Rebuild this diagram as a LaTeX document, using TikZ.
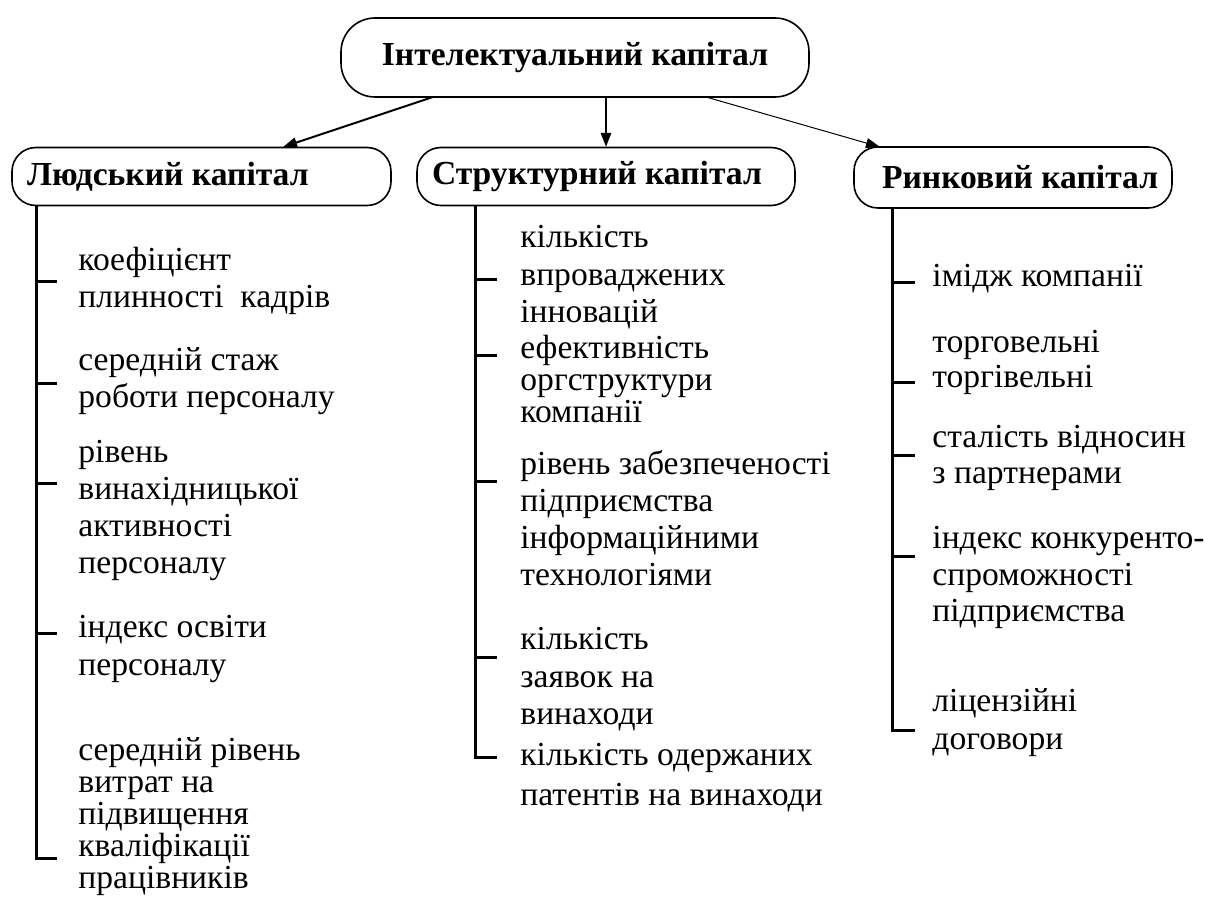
\documentclass[tikz,border=0pt]{standalone}
\usepackage{fontspec}
\setmainfont{Liberation Serif}
\usetikzlibrary{arrows.meta}
\newcommand{\firstln}{\rule{0pt}{12pt}}
\tikzset{
  pill/.style={draw, line width=0.8pt, rounded corners=12pt, inner sep=0pt, font={\rmfamily\bfseries\fontsize{16.8}{19}\selectfont}},
  itm/.style={anchor=north west, inner sep=0pt, align=left, font={\rmfamily\fontsize{16.8}{#1}\selectfont}},
  trunk/.style={line width=1.5pt},
  arr/.style={-{Triangle[length=7pt,width=5pt]}, line width=1pt}
}
\begin{document}
\begin{tikzpicture}[x=0.5pt,y=-0.5pt]
\useasboundingbox (0,0) rectangle (1219,898);
% boxes
\node[pill, rounded corners=17pt, minimum width=234pt, minimum height=39.5pt] (T) at (575,57.5) {Інтелектуальний капітал};
\node[pill, minimum width=189.5pt, minimum height=29pt] (L) at (201.5,176.5) {\makebox[189.5pt][l]{\hspace{7.5pt}Людський капітал}};
\node[pill, minimum width=189pt, minimum height=29pt] (M) at (606,176.5) {\makebox[189pt][l]{\hspace{7.5pt}Структурний капітал}};
\node[pill, minimum width=159pt, minimum height=30.5pt] (R) at (1013,177.5) {\makebox[159pt][l]{\hspace{14pt}Ринковий капітал}};
% arrows
\coordinate (a1) at (433,97); \coordinate (b1) at (283,147);
\coordinate (a2) at (606,97); \coordinate (b2) at (606,147);
\coordinate (a3) at (706,97); \coordinate (b3) at (880,147);
\draw[arr] (a1) -- (b1);
\draw[arr, line width=1.3pt] (a2) -- (b2);
\draw[arr, line width=0.5pt] (a3) -- (b3);
% left column
\node[itm=18.5] (L1) at (78,246.4) {\firstln коефіцієнт\\плинності\ \ кадрів};
\node[itm=18.5] (L2) at (78,346.4) {\firstln середній стаж\\роботи персоналу};
\node[itm=18.5] (L3) at (78,438.4) {\firstln рівень\\винахідницької\\активності\\персоналу};
\node[itm=19] (L4) at (78,613.4) {\firstln індекс освіти\\персоналу};
\node[itm=16] (L5) at (78,736.4) {\firstln середній рівень\\витрат на\\підвищення\\кваліфікації\\працівників};
\coordinate (Ltop) at (36,206);
\coordinate (Lbot) at (36,858);
\draw[trunk] (Ltop) -- (Lbot) -- (57,858);
\foreach \y in {282,383,483,633} \draw[trunk] (36,\y) -- (57,\y);
% middle column
\node[itm=18.75] (M1) at (520,223.4) {\firstln кількість\\впроваджених\\інновацій};
\node[itm=16] (M2) at (520,334.4) {\firstln ефективність\\оргструктури\\компанії};
\node[itm=18.5] (M3) at (520,450.4) {\firstln рівень забезпеченості\\підприємства\\інформаційними\\технологіями};
\node[itm=18.75] (M4) at (520,625.4) {\firstln кількість\\заявок на\\винаходи};
\node[itm=20] (M5) at (520,741.4) {\firstln кількість одержаних\\патентів на винаходи};
\coordinate (Mtop) at (475,206);
\coordinate (Mbot) at (475,757);
\draw[trunk] (Mtop) -- (Mbot) -- (497,757);
\foreach \y in {280,355,481,657} \draw[trunk] (475,\y) -- (497,\y);
% right column
\node[itm=18] (R1) at (932,262.4) {\firstln імідж компанії};
\node[itm=17.5] (R2) at (932,328.4) {\firstln торговельні\\торгівельні};
\node[itm=18] (R3) at (932,423.4) {\firstln сталість відносин\\з партнерами};
\node[itm=18.25] (R4) at (932,524.4) {\firstln індекс конкуренто-\\спроможності\\підприємства};
\node[itm=19] (R5) at (932,687.4) {\firstln ліцензійні\\договори};
\coordinate (Rtop) at (892,208);
\coordinate (Rbot) at (892,730);
\draw[trunk] (Rtop) -- (Rbot) -- (915,730);
\foreach \y in {283,382,455,556} \draw[trunk] (892,\y) -- (915,\y);
\end{tikzpicture}
\end{document}
